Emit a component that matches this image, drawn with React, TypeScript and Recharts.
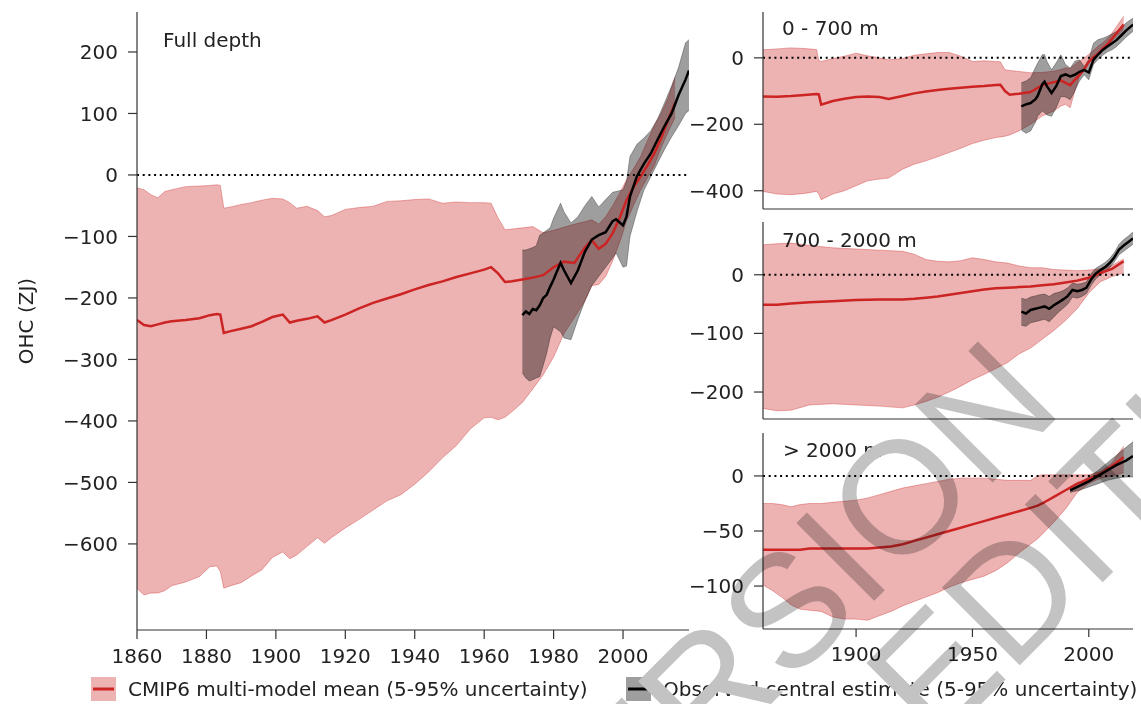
import { ComposedChart, Area, Line, XAxis, YAxis, ReferenceLine } from 'recharts';

// Full depth: CMIP6 multi-model mean with 5-95% range
const fullModelYears = [1860, 1862, 1864, 1866, 1868, 1870, 1874, 1878, 1881, 1883, 1884, 1885, 1887, 1890, 1893, 1896, 1899, 1902, 1904, 1906, 1909, 1912, 1914, 1916, 1920, 1924, 1928, 1932, 1936, 1940, 1944, 1948, 1952, 1956, 1960, 1962, 1964, 1966, 1968, 1971, 1974, 1977, 1980, 1983, 1986, 1989, 1991, 1993, 1995, 1997, 1999, 2001, 2003, 2005, 2007, 2009, 2011, 2013, 2015];
const fullModelMean = [-236, -244, -246, -243, -240, -238, -236, -233, -228, -226, -227, -257, -254, -250, -246, -239, -231, -227, -240, -237, -234, -230, -240, -236, -227, -217, -208, -201, -194, -186, -179, -173, -166, -160, -154, -150, -160, -174, -173, -170, -167, -163, -150, -141, -143, -118, -106, -120, -112, -95, -70, -41, -20, -3, 15, 35, 60, 90, 117];
const fullModelHi = [-21, -24, -32, -37, -27, -24, -19, -18, -17, -16, -17, -54, -52, -48, -45, -41, -38, -39, -45, -54, -51, -58, -68, -66, -56, -53, -51, -43, -42, -40, -39, -46, -44, -45, -45, -46, -70, -89, -88, -86, -84, -94, -90, -85, -80, -76, -73, -80, -68, -50, -30, -8, 10, 29, 55, 80, 100, 125, 159];
const fullModelLo = [-672, -683, -680, -680, -676, -668, -662, -653, -637, -636, -645, -672, -668, -663, -652, -642, -622, -613, -624, -618, -604, -590, -599, -590, -574, -560, -545, -530, -520, -503, -483, -460, -440, -413, -395, -394, -398, -394, -385, -370, -348, -325, -296, -258, -232, -205, -180, -178, -165, -140, -110, -75, -50, -25, -5, 15, 45, 70, 94];

// Full depth: observed central estimate with 5-95% range
const fullObsYears = [1971, 1972, 1973, 1974, 1975, 1976, 1977, 1978, 1979, 1980, 1982, 1983, 1985, 1987, 1989, 1991, 1993, 1995, 1997, 1998, 2000, 2001, 2002, 2004, 2006, 2008, 2010, 2012, 2014, 2016, 2018, 2019];
const fullObs = [-228, -222, -226, -218, -220, -212, -200, -195, -182, -170, -143, -155, -176, -155, -125, -105, -98, -93, -75, -72, -82, -68, -35, -2, 18, 35, 58, 80, 100, 130, 155, 170];
const fullObsHi = [-122, -122, -120, -118, -115, -98, -94, -90, -86, -70, -46, -60, -78, -68, -50, -35, -52, -40, -28, -27, -24, -10, 30, 50, 60, 72, 92, 118, 145, 175, 215, 220];
const fullObsLo = [-322, -330, -335, -333, -330, -328, -310, -290, -265, -247, -255, -265, -268, -235, -205, -180, -165, -150, -135, -127, -150, -148, -100, -60, -25, -3, 20, 42, 62, 80, 100, 105];

// 0 - 700 m
const upperModelYears = [1860, 1866, 1872, 1878, 1883, 1884, 1885, 1890, 1895, 1900, 1905, 1910, 1914, 1920, 1925, 1930, 1935, 1940, 1945, 1950, 1955, 1960, 1962, 1964, 1966, 1970, 1975, 1980, 1985, 1988, 1990, 1992, 1994, 1996, 1998, 2000, 2002, 2004, 2006, 2008, 2010, 2012, 2015];
const upperModelMean = [-116, -117, -115, -112, -109, -110, -141, -130, -123, -118, -116, -118, -124, -115, -107, -101, -97, -93, -90, -87, -85, -82, -81, -100, -111, -108, -103, -82, -73, -68, -75, -82, -66, -52, -35, -12, 2, 12, 28, 40, 58, 75, 100];
const upperModelHi = [24, 27, 30, 28, 25, -8, -11, -2, 5, 14, 6, 0, -6, -2, 8, 12, 16, 16, 5, -11, -9, -11, -12, -36, -38, -41, -45, -44, -40, -35, -30, -32, -20, -10, 0, 10, 22, 35, 45, 58, 75, 95, 125];
const upperModelLo = [-402, -410, -412, -408, -402, -410, -427, -410, -400, -385, -370, -365, -362, -335, -320, -310, -298, -285, -272, -258, -248, -240, -238, -236, -232, -220, -200, -175, -160, -145, -140, -150, -100, -55, -35, -15, 0, 12, 25, 38, 50, 65, 85];
const upperObsYears = [1971, 1973, 1975, 1977, 1978, 1980, 1981, 1982, 1984, 1986, 1988, 1990, 1992, 1994, 1996, 1998, 2000, 2002, 2004, 2006, 2008, 2010, 2012, 2014, 2016, 2019];
const upperObs = [-146, -140, -136, -125, -115, -80, -72, -85, -106, -85, -55, -50, -56, -51, -42, -36, -44, -6, 10, 24, 34, 44, 54, 68, 82, 100];
const upperObsHi = [-75, -70, -60, -30, -16, 9, 10, -10, -36, -15, 9, -20, -31, -10, -6, -26, -5, 44, 55, 59, 65, 72, 80, 92, 105, 120];
const upperObsLo = [-217, -227, -220, -195, -176, -160, -165, -172, -176, -150, -116, -118, -126, -100, -70, -51, -66, -20, -5, 8, 18, 24, 34, 48, 62, 80];

// 700 - 2000 m
const midModelYears = [1860, 1866, 1872, 1880, 1890, 1900, 1910, 1920, 1925, 1930, 1935, 1940, 1945, 1950, 1955, 1960, 1965, 1970, 1975, 1980, 1985, 1990, 1995, 2000, 2005, 2010, 2015];
const midModelMean = [-51, -51, -49, -47, -45, -43, -42, -42, -41, -39, -37, -34, -31, -28, -25, -23, -22, -21, -20, -18, -16, -13, -10, -5, 3, 10, 23];
const midModelHi = [51, 53, 54, 50, 46, 44, 42, 40, 35, 26, 23, 22, 24, 29, 26, 22, 20, 15, 12, 12, 9, 8, 7, 8, 10, 16, 27];
const midModelLo = [-228, -232, -231, -222, -220, -222, -224, -227, -222, -216, -209, -200, -190, -179, -170, -160, -150, -135, -125, -110, -95, -78, -58, -31, -12, -3, 3];
const midObsYears = [1971, 1973, 1975, 1977, 1979, 1981, 1983, 1985, 1987, 1989, 1991, 1993, 1995, 1997, 1999, 2001, 2003, 2005, 2007, 2009, 2011, 2013, 2015, 2017, 2019];
const midObs = [-63, -66, -60, -58, -56, -54, -58, -52, -47, -42, -36, -26, -28, -26, -22, -8, 2, 8, 13, 20, 30, 43, 50, 56, 62];
const midObsHi = [-40, -42, -38, -36, -34, -33, -37, -32, -30, -27, -22, -14, -16, -15, -12, 2, 11, 16, 21, 28, 38, 52, 60, 66, 73];
const midObsLo = [-86, -88, -82, -80, -78, -76, -80, -72, -64, -57, -50, -38, -40, -37, -32, -18, -7, 0, 5, 12, 22, 34, 40, 46, 52];

// > 2000 m
const deepModelYears = [1860, 1864, 1868, 1872, 1876, 1880, 1885, 1890, 1895, 1900, 1905, 1910, 1915, 1920, 1925, 1930, 1935, 1940, 1945, 1950, 1955, 1960, 1965, 1970, 1975, 1978, 1980, 1985, 1990, 1995, 2000, 2005, 2010, 2015];
const deepModelMean = [-67, -67, -67, -67, -67, -66, -66, -66, -66, -66, -66, -65, -64, -62, -59, -56, -53, -50, -47, -44, -41, -38, -35, -32, -29, -27, -25, -19, -13, -7, -3, 2, 9, 17];
const deepModelHi = [-25, -25, -26, -28, -26, -25, -25, -24, -23, -22, -20, -17, -14, -11, -9, -7, -5, -3, -2, -2, -2, -3, -4, -4, -4, 0, 1, 1, 1, 1, 1, 4, 12, 27];
const deepModelLo = [-99, -104, -110, -117, -121, -122, -123, -128, -130, -130, -131, -127, -123, -118, -114, -110, -106, -101, -97, -94, -91, -86, -79, -70, -62, -57, -53, -42, -30, -15, -7, -2, 0, 3];
const deepObsYears = [1992, 1996, 2000, 2004, 2008, 2012, 2016, 2019];
const deepObs = [-13, -9, -5, 0, 5, 10, 14, 18];
const deepObsHi = [-11, -6, -1, 5, 12, 19, 26, 31];
const deepObsLo = [-15, -13, -10, -7, -4, -2, -1, -1];

const RED = '#cc2323';
const FONT = 'DejaVu Sans, sans-serif';

type Row = { year: number; mean?: number; band?: [number, number]; obs?: number; obsBand?: [number, number] };

function buildRows(
  mYears: number[], mMean: number[], mLo: number[], mHi: number[],
  oYears: number[], oMean: number[], oLo: number[], oHi: number[],
): Row[] {
  const map = new Map<number, Row>();
  mYears.forEach((y, i) => {
    const r = map.get(y) ?? { year: y };
    r.mean = mMean[i];
    r.band = [mLo[i], mHi[i]];
    map.set(y, r);
  });
  oYears.forEach((y, i) => {
    const r = map.get(y) ?? { year: y };
    r.obs = oMean[i];
    r.obsBand = [oLo[i], oHi[i]];
    map.set(y, r);
  });
  return [...map.values()].sort((a, b) => a.year - b.year);
}

const fmt = (v: number) => (v < 0 ? `\u2212${-v}` : `${v}`);

type PanelProps = {
  rows: Row[];
  left: number;
  top: number;
  width: number;
  height: number;
  yAxisWidth: number;
  marginRight: number;
  xAxisHeight: number;
  yDomain: [number, number];
  yTicks: number[];
  xTicks: number[];
  showXLabels: boolean;
  tickSize: number;
};

const Panel = (p: PanelProps) => (
  <div style={{ position: 'absolute', left: p.left, top: p.top }}>
    <ComposedChart width={p.width} height={p.height} data={p.rows}
      margin={{ top: 12, right: p.marginRight, bottom: 0, left: 0 }}>
      <XAxis type="number" dataKey="year" domain={[1860, 2019]} allowDataOverflow ticks={p.xTicks}
        height={p.xAxisHeight} tickSize={p.tickSize} tickMargin={10}
        axisLine={{ stroke: '#333', strokeWidth: 1.2 }} tickLine={{ stroke: '#333', strokeWidth: 1.2 }}
        tick={p.showXLabels ? { fill: '#222', fontSize: 20, fontFamily: FONT } : false} />
      <YAxis type="number" domain={p.yDomain} allowDataOverflow ticks={p.yTicks} width={p.yAxisWidth}
        tickSize={9} tickMargin={10} tickFormatter={fmt}
        axisLine={{ stroke: '#333', strokeWidth: 1.2 }} tickLine={{ stroke: '#333', strokeWidth: 1.2 }}
        tick={{ fill: '#222', fontSize: 20, fontFamily: FONT }} />
      <Area dataKey="band" connectNulls fill={RED} fillOpacity={0.35} stroke={RED} strokeOpacity={0.35}
        strokeWidth={1} dot={false} activeDot={false} isAnimationActive={false} />
      <Area dataKey="obsBand" connectNulls fill="#000" fillOpacity={0.38} stroke="#000" strokeOpacity={0.3}
        strokeWidth={1} dot={false} activeDot={false} isAnimationActive={false} />
      <Line dataKey="mean" connectNulls stroke={RED} strokeWidth={2.5} dot={false} activeDot={false}
        isAnimationActive={false} />
      <Line dataKey="obs" connectNulls stroke="#000" strokeWidth={2.5} dot={false} activeDot={false}
        isAnimationActive={false} />
      <ReferenceLine y={0} stroke="#000" strokeWidth={2} strokeDasharray="2 3.7" />
    </ComposedChart>
  </div>
);

const fullRows = buildRows(fullModelYears, fullModelMean, fullModelLo, fullModelHi, fullObsYears, fullObs, fullObsLo, fullObsHi);
const upperRows = buildRows(upperModelYears, upperModelMean, upperModelLo, upperModelHi, upperObsYears, upperObs, upperObsLo, upperObsHi);
const midRows = buildRows(midModelYears, midModelMean, midModelLo, midModelHi, midObsYears, midObs, midObsLo, midObsHi);
const deepRows = buildRows(deepModelYears, deepModelMean, deepModelLo, deepModelHi, deepObsYears, deepObs, deepObsLo, deepObsHi);

const sideTicks = [1900, 1950, 2000];

export default function App() {
  return (
    <div style={{ position: 'absolute', left: 0, top: 0, width: 1141, height: 704, background: '#fff', overflow: 'hidden' }}>
      <Panel rows={fullRows} left={0} top={0} width={700} height={680} yAxisWidth={137} marginRight={11}
        xAxisHeight={50} yDomain={[-740, 265]} yTicks={[-600, -500, -400, -300, -200, -100, 0, 100, 200]}
        xTicks={[1860, 1880, 1900, 1920, 1940, 1960, 1980, 2000]} showXLabels tickSize={9} />
      <Panel rows={upperRows} left={680} top={0} width={461} height={219} yAxisWidth={83} marginRight={8}
        xAxisHeight={10} yDomain={[-455, 138]} yTicks={[-400, -200, 0]} xTicks={sideTicks} showXLabels={false} tickSize={8} />
      <Panel rows={midRows} left={680} top={210} width={461} height={219} yAxisWidth={83} marginRight={8}
        xAxisHeight={10} yDomain={[-246, 90]} yTicks={[-200, -100, 0]} xTicks={sideTicks} showXLabels={false} tickSize={8} />
      <Panel rows={deepRows} left={680} top={421} width={461} height={258} yAxisWidth={83} marginRight={8}
        xAxisHeight={50} yDomain={[-139, 39]} yTicks={[-100, -50, 0]} xTicks={sideTicks} showXLabels tickSize={8} />

      <svg width={1141} height={704} style={{ position: 'absolute', left: 0, top: 0, pointerEvents: 'none', mixBlendMode: 'multiply' }}
        fontFamily={FONT} fontSize={20} fill="#222">
        <text x={163} y={47}>Full depth</text>
        <text x={782} y={35}>0 - 700 m</text>
        <text x={782} y={247}>700 - 2000 m</text>
        <text x={783} y={457}>&gt; 2000 m</text>
        <text x={33} y={321} textAnchor="middle" transform="rotate(-90 33 321)">OHC (ZJ)</text>

        <rect x={91} y={677} width={25} height={24} fill={RED} fillOpacity={0.35} />
        <line x1={93} x2={114} y1={689} y2={689} stroke={RED} strokeWidth={3} />
        <text x={128} y={696}>CMIP6 multi-model mean (5-95% uncertainty)</text>
        <rect x={626} y={677} width={25} height={24} fill="#000" fillOpacity={0.38} />
        <line x1={628} x2={649} y1={689} y2={689} stroke="#000" strokeWidth={3} />
        <text x={663} y={696}>Observed central estimate (5-95% uncertainty)</text>

        <g fill="#c3c3c3" fontFamily="Liberation Sans Narrow, Liberation Sans, sans-serif" fontSize={160}>
          <text x={1065} y={410} textAnchor="end" transform="rotate(-45 1065 410)">ACCEPTED VERSION</text>
          <text x={935} y={750} transform="rotate(-45 935 750)">EDITING</text>
        </g>
      </svg>
    </div>
  );
}
